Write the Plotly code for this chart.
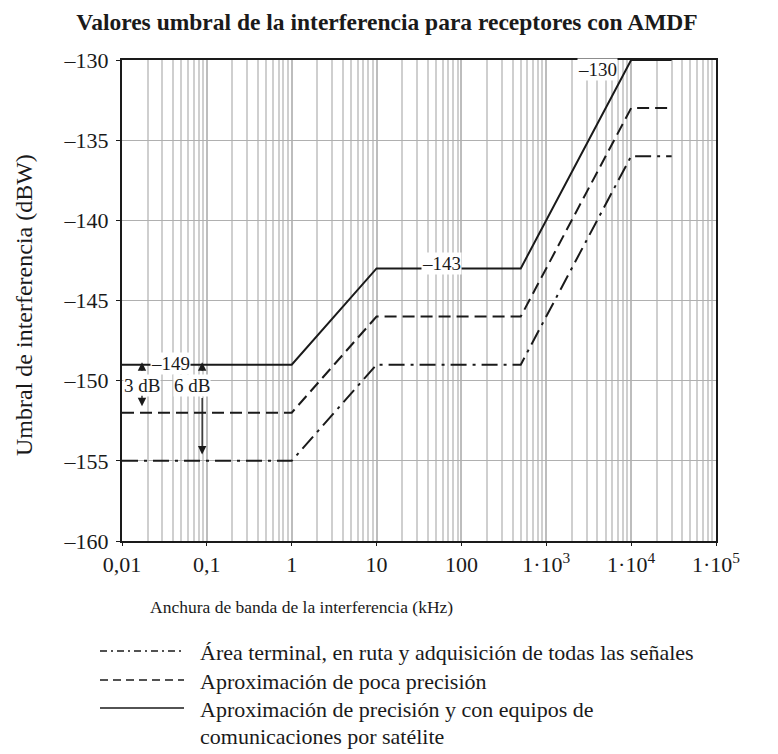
import math
import plotly.graph_objects as go

# ---- data ----
bandwidth_khz = [0.01, 1, 10, 500, 10000, 30000]
precision_sat = [-149, -149, -143, -143, -130, -130]
low_precision = [-152, -152, -146, -146, -133, -133]
terminal_route = [-155, -155, -149, -149, -136, -136]

series_names = [
    "Área terminal, en ruta y adquisición de todas las señales",
    "Aproximación de poca precisión",
    "Aproximación de precisión y con equipos de",
]
series_name_cont = ["", "", "comunicaciones por satélite"]
x_tick_vals = [0.01, 0.1, 1, 10, 100, 1000, 10000, 100000]
x_tick_text = ["0,01", "0,1", "1", "10", "100", "1·10<sup>3</sup>", "1·10<sup>4</sup>", "1·10<sup>5</sup>"]
y_tick_vals = [-130, -135, -140, -145, -150, -155, -160]
y_tick_text = ["–130", "–135", "–140", "–145", "–150", "–155", "–160"]

FONT = "Liberation Serif, Times New Roman, serif"
INK = "#1a1a1a"
DASH_STYLES = ["16px,6px,3px,6px", "12px,6px", "solid"]
LEG_DASH = ["7px,4px,2px,4px", "8px,5px", "solid"]

# plot area in screenshot pixels (for paper-coordinate helpers)
PX_L, PX_R, PX_T, PX_B = 122, 716, 60, 541
def px(xp):
    return (xp - PX_L) / (PX_R - PX_L)
def py(yp):
    return (PX_B - yp) / (PX_B - PX_T)

fig = go.Figure()
for vals, dash, name in zip([terminal_route, low_precision, precision_sat], DASH_STYLES, series_names):
    fig.add_trace(go.Scatter(x=bandwidth_khz, y=vals, mode="lines", name=name,
                             line=dict(color=INK, width=2, dash=dash), showlegend=False))

minor_vals = [m * 10 ** e for e in range(-2, 5) for m in range(2, 10)]

fig.update_xaxes(type="log", range=[-2, 5], tickvals=x_tick_vals, ticktext=x_tick_text,
                 showgrid=True, gridcolor="#bdbdbd", gridwidth=1.5,
                 minor=dict(tickvals=minor_vals, showgrid=True, gridcolor="#cfcfcf", gridwidth=1.5, ticks=""),
                 showline=True, mirror=True, linecolor=INK, linewidth=2,
                 ticks="outside", ticklen=3, tickcolor=INK,
                 tickfont=dict(family=FONT, size=22, color=INK), zeroline=False)
fig.update_yaxes(range=[-160, -130], tickvals=y_tick_vals, ticktext=y_tick_text,
                 showgrid=True, gridcolor="#b0b0b0", gridwidth=1.2,
                 showline=True, mirror=True, linecolor=INK, linewidth=2,
                 ticks="outside", ticklen=4, tickcolor=INK, ticklabelstandoff=3,
                 tickfont=dict(family=FONT, size=22, color=INK), zeroline=False)

ann = []
def lbl(x, y, t):
    ann.append(dict(x=math.log10(x), y=y, xref="x", yref="y", text=t, showarrow=False,
                    font=dict(family=FONT, size=19, color=INK), bgcolor="white", borderpad=0))
lbl(0.0368, -148.9, "–149")
lbl(59, -142.7, "–143")
lbl(4066, -130.6, "–130")
lbl(0.0172, -150.3, "3 dB")
lbl(0.067, -150.3, "6 dB")

def arrow(x, y_tip, ay):
    ann.append(dict(x=math.log10(x), y=y_tip, xref="x", yref="y", text="", showarrow=True,
                    ax=0, ay=ay, arrowhead=2, arrowsize=1.3, arrowwidth=1.3, arrowcolor=INK))
arrow(0.0172, -148.85, 10)
arrow(0.0172, -151.6, -12)
arrow(0.088, -148.85, 10)
arrow(0.088, -154.6, -58)

# axis titles
ann.append(dict(x=px(148), y=py(607), xref="paper", yref="paper", xanchor="left", yanchor="middle",
                text="Anchura de banda de la interferencia (kHz)", showarrow=False,
                font=dict(family=FONT, size=17.5, color=INK)))
ann.append(dict(x=px(24), y=py(305), xref="paper", yref="paper", xanchor="center", yanchor="middle",
                text="Umbral de interferencia (dBW)", textangle=-90, showarrow=False,
                font=dict(family=FONT, size=24, color=INK)))

# custom legend
shapes = []
leg_y_px = [651, 680, 708]
for ypx, dash, name, cont in zip(leg_y_px, LEG_DASH, series_names, series_name_cont):
    shapes.append(dict(type="line", xref="paper", yref="paper", x0=px(100), x1=px(184),
                       y0=py(ypx), y1=py(ypx), line=dict(color=INK, width=1.3, dash=dash)))
    ann.append(dict(x=px(198), y=py(ypx + 1), xref="paper", yref="paper",
                    xanchor="left", yanchor="middle", align="left", text=name, showarrow=False,
                    font=dict(family=FONT, size=22, color=INK)))
    if cont:
        ann.append(dict(x=px(198), y=py(ypx + 28), xref="paper", yref="paper",
                        xanchor="left", yanchor="middle", align="left", text=cont, showarrow=False,
                        font=dict(family=FONT, size=22, color=INK)))

fig.update_layout(
    width=778, height=754,
    margin=dict(l=PX_L - 8, r=778 - (PX_R - 8), t=PX_T - 8, b=754 - (PX_B - 8)),
    paper_bgcolor="white", plot_bgcolor="white",
    title=dict(text="<b>Valores umbral de la interferencia para receptores con AMDF</b>",
               x=(387 - 8) / 778, xanchor="center", y=1 - 14 / 754, yanchor="middle",
               font=dict(family=FONT, size=23.5, color=INK)),
    annotations=ann, shapes=shapes,
)

fig.write_html("out.html")
